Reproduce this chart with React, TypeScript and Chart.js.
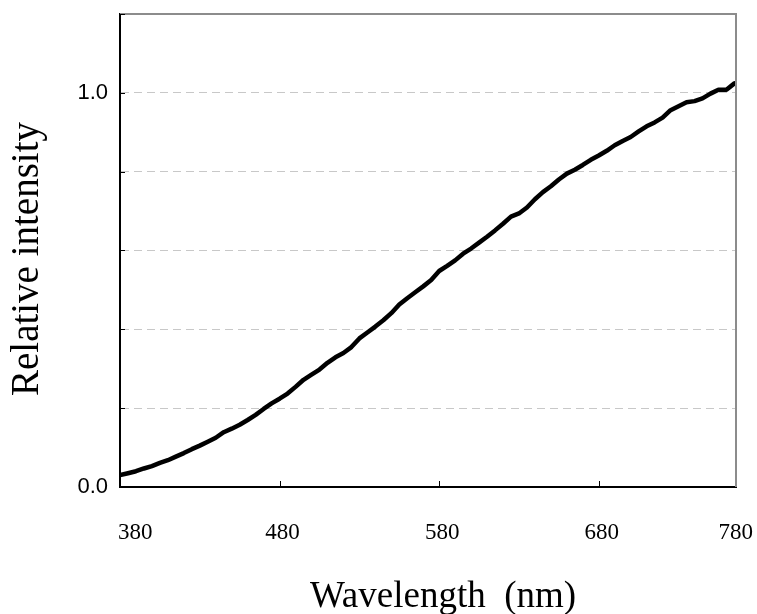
import React, { useEffect, useRef } from "react";
import { Chart, registerables } from "chart.js";

Chart.register(...registerables);

const wavelengths: number[] = [
  380, 385, 390, 395, 400, 405, 410, 415, 420, 425, 430, 435, 440, 445, 450, 455,
  460, 465, 470, 475, 480, 485, 490, 495, 500, 505, 510, 515, 520, 525, 530, 535,
  540, 545, 550, 555, 560, 565, 570, 575, 580, 585, 590, 595, 600, 605, 610, 615,
  620, 625, 630, 635, 640, 645, 650, 655, 660, 665, 670, 675, 680, 685, 690, 695,
  700, 705, 710, 715, 720, 725, 730, 735, 740, 745, 750, 755, 760, 765,
];

const intensity: number[] = [
  0.030, 0.035, 0.040, 0.047, 0.053, 0.061, 0.068, 0.077, 0.086, 0.096, 0.105, 0.115,
  0.125, 0.139, 0.148, 0.158, 0.170, 0.183, 0.198, 0.212, 0.224, 0.237, 0.254, 0.272,
  0.285, 0.298, 0.315, 0.329, 0.340, 0.355, 0.377, 0.392, 0.407, 0.423, 0.441, 0.463,
  0.479, 0.494, 0.509, 0.525, 0.548, 0.561, 0.575, 0.592, 0.605, 0.620, 0.635, 0.651,
  0.668, 0.686, 0.694, 0.709, 0.730, 0.748, 0.763, 0.780, 0.795, 0.805, 0.817, 0.830,
  0.841, 0.853, 0.867, 0.878, 0.888, 0.902, 0.915, 0.925, 0.937, 0.956, 0.966, 0.976,
  0.979, 0.986, 0.998, 1.008, 1.008, 1.024,
];

const xTickValues: number[] = [380, 480, 580, 680, 780];
const xTickLabels: string[] = ["380", "480", "580", "680", "780"];
const xMin = 380;
const xMax = 766;
const yMin = 0;
const yMax = 1.2;
const yStep = 0.2;
const yLabeled: number[] = [0, 1.0];

const xTitle = "Wavelength  (nm)";
const yTitle = "Relative intensity";

const SERIF = '"Liberation Serif", "Times New Roman", serif';
const SANS = '"Liberation Sans", Arial, sans-serif';

const decorPlugin = {
  id: "decor",
  afterDraw(chart: any) {
    const { ctx, chartArea } = chart;
    const xs = chart.scales.x;
    const ys = chart.scales.y;
    const { left, right, top, bottom } = chartArea;
    ctx.save();
    // gray top and right frame
    ctx.strokeStyle = "#8c8c8c";
    ctx.lineWidth = 2;
    ctx.beginPath();
    ctx.moveTo(left, top);
    ctx.lineTo(right, top);
    ctx.lineTo(right, bottom);
    ctx.stroke();
    // inside ticks on y axis
    ctx.strokeStyle = "#000";
    ctx.lineWidth = 1;
    for (let v = yMin; v <= yMax + 1e-9; v += yStep) {
      const py = Math.round(ys.getPixelForValue(v)) + 0.5;
      ctx.beginPath();
      ctx.moveTo(left, py);
      ctx.lineTo(left + 5, py);
      ctx.stroke();
    }
    // inside ticks on x axis
    for (const v of xTickValues) {
      const px = Math.round(xs.getPixelForValue(v)) + 0.5;
      if (px <= left + 2 || px >= right - 2) continue;
      ctx.beginPath();
      ctx.moveTo(px, bottom);
      ctx.lineTo(px, bottom - 6);
      ctx.stroke();
    }
    // x tick labels
    ctx.fillStyle = "#000";
    ctx.font = `23px ${SERIF}`;
    ctx.textBaseline = "alphabetic";
    xTickValues.forEach((v, i) => {
      const px = xs.getPixelForValue(v);
      const w = ctx.measureText(xTickLabels[i]).width;
      let cx = px + 3;
      if (cx - w / 2 < left - 2) cx = left - 2 + w / 2;
      if (cx + w / 2 > right + 17) cx = right + 17 - w / 2;
      ctx.textAlign = "center";
      ctx.fillText(xTickLabels[i], cx, bottom + 52);
    });
    // x title
    ctx.font = `37px ${SERIF}`;
    ctx.textAlign = "center";
    ctx.fillText(xTitle, 443, 607);
    // y title
    ctx.translate(28, 259);
    ctx.rotate(-Math.PI / 2);
    ctx.font = `39px ${SERIF}`;
    ctx.textAlign = "center";
    ctx.textBaseline = "middle";
    ctx.fillText(yTitle, 0, 0);
    ctx.restore();
  },
};

export default function App() {
  const ref = useRef<HTMLCanvasElement | null>(null);
  useEffect(() => {
    if (!ref.current) return;
    const chart = new Chart(ref.current, {
      type: "line",
      data: {
        datasets: [
          {
            data: wavelengths.map((w, i) => ({ x: w, y: intensity[i] })),
            borderColor: "#000",
            borderWidth: 4.5,
            pointRadius: 0,
            tension: 0,
            fill: false,
            borderCapStyle: "round",
            borderJoinStyle: "round",
          },
        ],
      },
      options: {
        animation: false,
        responsive: false,
        devicePixelRatio: 1,
        layout: { padding: { left: 0, right: 21, top: 14, bottom: 0 } },
        plugins: { legend: { display: false }, tooltip: { enabled: false } },
        scales: {
          x: {
            type: "linear",
            min: xMin,
            max: xMax,
            ticks: { display: false },
            grid: { display: false, drawTicks: false },
            border: { display: true, color: "#000", width: 2 },
            afterFit: (s: any) => {
              s.height = 127;
              s.paddingLeft = 0;
              s.paddingRight = 0;
            },
          },
          y: {
            type: "linear",
            min: yMin,
            max: yMax,
            ticks: {
              stepSize: yStep,
              padding: 12,
              color: "#000",
              font: { family: SANS, size: 22 },
              callback: (v: any) => {
                const n = Number(v);
                return yLabeled.some((l) => Math.abs(l - n) < 1e-6) ? n.toFixed(1) : "";
              },
            },
            grid: {
              drawTicks: false,
              lineWidth: 1,
              color: (c: any) => {
                const v = c.tick ? c.tick.value : 0;
                if (Math.abs(v - yMin) < 1e-6 || Math.abs(v - yMax) < 1e-6) return "rgba(0,0,0,0)";
                return "#c8c8c8";
              },
            },
            border: { display: true, color: "#000", width: 2, dash: [8, 5] },
            afterFit: (s: any) => {
              s.width = 120;
              s.paddingTop = 0;
              s.paddingBottom = 0;
            },
          },
        },
      },
      plugins: [decorPlugin],
    } as any);
    return () => chart.destroy();
  }, []);
  return (
    <div style={{ position: "absolute", left: 0, top: 0, width: 757, height: 614, background: "#fff" }}>
      <canvas ref={ref} width={757} height={614} />
    </div>
  );
}
